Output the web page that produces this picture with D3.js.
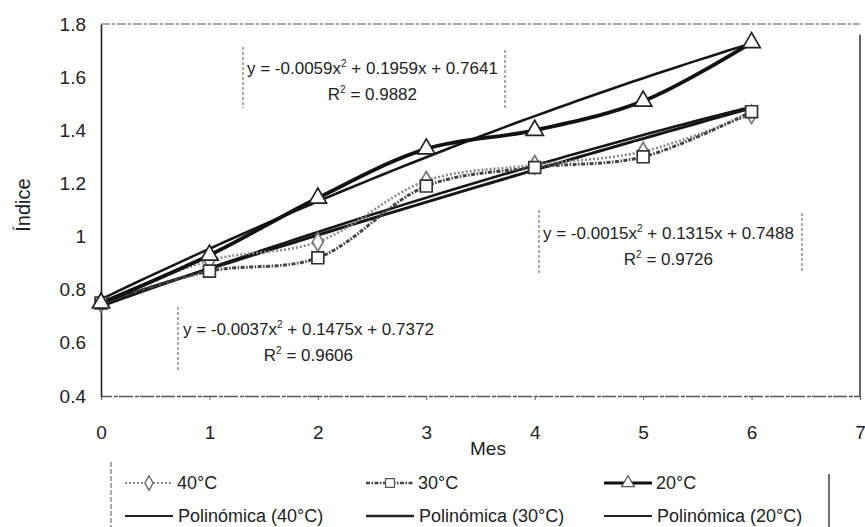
<!DOCTYPE html>
<html>
<head>
<meta charset="utf-8">
<script src="https://cdn.jsdelivr.net/npm/d3@7"></script>
<style>
  body { margin: 0; background: #fff; }
  svg text { font-family: "Liberation Sans", Arial, sans-serif; fill: #222; }
</style>
</head>
<body>
<svg id="chart" width="865" height="527"></svg>
<script>
// data
var months = [0, 1, 2, 3, 4, 5, 6];
var s40 = [0.75, 0.91, 0.98, 1.21, 1.27, 1.32, 1.46];
var s30 = [0.75, 0.87, 0.92, 1.19, 1.26, 1.30, 1.47];
var s20 = [0.75, 0.93, 1.145, 1.33, 1.40, 1.51, 1.73];

// trendline coefficients shown on the chart [a, b, c] for a*x^2 + b*x + c
var fit40 = [-0.0037, 0.1475, 0.7372];
var fit30 = [-0.0015, 0.1315, 0.7488];
var fit20 = [-0.0059, 0.1959, 0.7641];
var r2 = ["0.9606", "0.9726", "0.9882"];

var xTicks = [0, 1, 2, 3, 4, 5, 6, 7];
var yTicks = [0.4, 0.6, 0.8, 1, 1.2, 1.4, 1.6, 1.8];
var seriesNames = ["40°C", "30°C", "20°C"];

var svg = d3.select("svg");

var xScale = d3.scaleLinear().domain([0, 7]).range([101, 860]);
var yScale = d3.scaleLinear().domain([0.4, 1.8]).range([396, 24]);

// plot frame (scanned look: dashed top, solid right)
svg.append("line")
    .attr("x1", xScale(0)).attr("x2", xScale(7))
    .attr("y1", yScale(1.8)).attr("y2", yScale(1.8))
    .attr("stroke", "#555").attr("stroke-width", 1.2)
    .attr("stroke-dasharray", "9,2,3,2");
svg.append("line")
    .attr("x1", xScale(7)).attr("x2", xScale(7))
    .attr("y1", yScale(1.76)).attr("y2", yScale(0.4))
    .attr("stroke", "#333").attr("stroke-width", 1.5);

// x axis
var xAxis = svg.append("g")
    .attr("transform", "translate(0," + yScale(0.4) + ")")
    .call(d3.axisBottom(xScale).tickValues(xTicks).tickFormat(d3.format("d"))
        .tickSize(4).tickPadding(26));
xAxis.select(".domain").attr("stroke", "#555").attr("stroke-width", 1.3)
    .attr("stroke-dasharray", "14,2,4,1");
xAxis.selectAll(".tick line").attr("stroke", "#666");
xAxis.selectAll("text").style("font-size", "19px")
    .style("font-family", "Liberation Sans, Arial, sans-serif").attr("fill", "#222");

// y axis
var yAxis = svg.append("g")
    .attr("transform", "translate(" + xScale(0) + ",0)")
    .call(d3.axisLeft(yScale).tickValues(yTicks).tickFormat(d3.format("~g"))
        .tickSize(0).tickPadding(15));
yAxis.select(".domain").attr("stroke", "#222").attr("stroke-width", 1.6);
yAxis.selectAll("text").style("font-size", "19px")
    .style("font-family", "Liberation Sans, Arial, sans-serif").attr("fill", "#222");

// axis titles
svg.append("text")
    .attr("transform", "translate(30," + 205 + ") rotate(-90)")
    .style("text-anchor", "middle")
    .style("font-size", "20px")
    .text("Índice");
svg.append("text")
    .attr("x", 488).attr("y", 455)
    .style("text-anchor", "middle")
    .style("font-size", "19px")
    .text("Mes");

// trendlines
function polyPoints(c) {
    var pts = [];
    for (var i = 0; i <= 60; i++) {
        var x = i / 10;
        pts.push([x, c[0] * x * x + c[1] * x + c[2]]);
    }
    return pts;
}
var trend = d3.line()
    .x(function(d) { return xScale(d[0]); })
    .y(function(d) { return yScale(d[1]); });

[fit40, fit30, fit20].forEach(function(c, i) {
    svg.append("path")
        .attr("d", trend(polyPoints(c)))
        .attr("fill", "none")
        .attr("stroke", "#161616")
        .attr("stroke-width", i == 1 ? 3 : 2.6);
});

// data lines (smoothed like the spreadsheet)
var smooth = d3.line()
    .x(function(d, i) { return xScale(months[i]); })
    .y(function(d) { return yScale(d); })
    .curve(d3.curveCatmullRom.alpha(0.5));

var styles = [
    { data: s40, stroke: "#8a8a8a", width: 2.6, dash: "2,2" },
    { data: s30, stroke: "#444", width: 3, dash: "4,1.5,1.5,1.5" },
    { data: s20, stroke: "#111", width: 3.8, dash: null }
];

styles.forEach(function(s) {
    svg.append("path")
        .attr("d", smooth(s.data))
        .attr("fill", "none")
        .attr("stroke", s.stroke)
        .attr("stroke-width", s.width)
        .attr("stroke-dasharray", s.dash);
});

// markers
var diamond = d3.symbol().type(d3.symbolDiamond).size(100);
var square = d3.symbol().type(d3.symbolSquare).size(140);
var triangle = d3.symbol().type(d3.symbolTriangle).size(130);

function addMarkers(data, sym, color) {
    svg.append("g").selectAll("path").data(data).enter().append("path")
        .attr("transform", function(d, i) { return "translate(" + xScale(months[i]) + "," + yScale(d) + ")"; })
        .attr("d", sym)
        .attr("fill", "#fff")
        .attr("stroke", color)
        .attr("stroke-width", 1.7);
}
addMarkers(s40, diamond, "#777");
addMarkers(s30, square, "#333");
addMarkers(s20, triangle, "#222");

// equation labels
var eqs = [
    { c: fit20, r: r2[2], x: 247, y: 74, left: 243, right: 505, top: 47, bottom: 108 },
    { c: fit30, r: r2[1], x: 543, y: 239, left: 539, right: 802, top: 210, bottom: 273 },
    { c: fit40, r: r2[0], x: 183, y: 335, left: 178, right: null, top: 307, bottom: 370 }
];

function fmt(v) { return d3.format(".4f")(Math.abs(v)); }

eqs.forEach(function(e) {
    var t = svg.append("text")
        .attr("x", e.x).attr("y", e.y)
        .style("font-size", "17px");
    t.append("tspan").text("y = " + (e.c[0] < 0 ? "-" : "") + fmt(e.c[0]) + "x");
    t.append("tspan").attr("dy", -7).style("font-size", "10px").text("2");
    t.append("tspan").attr("dy", 7).text(" + " + fmt(e.c[1]) + "x + " + fmt(e.c[2]));
    var w = t.node().getComputedTextLength();

    var r = svg.append("text")
        .attr("x", e.x + w / 2).attr("y", e.y + 26)
        .style("text-anchor", "middle")
        .style("font-size", "17px");
    r.append("tspan").text("R");
    r.append("tspan").attr("dy", -7).style("font-size", "10px").text("2");
    r.append("tspan").attr("dy", 7).text(" = " + e.r);

    svg.append("line")
        .attr("x1", e.left).attr("x2", e.left)
        .attr("y1", e.top).attr("y2", e.bottom)
        .attr("stroke", "#555").attr("stroke-dasharray", "3,2");
    if (e.right) {
        svg.append("line")
            .attr("x1", e.right).attr("x2", e.right)
            .attr("y1", e.top + 3).attr("y2", e.bottom)
            .attr("stroke", "#555").attr("stroke-dasharray", "3,2");
    }
});

// legend
var legCols = [125, 366, 604];
var legRow1 = 483, legRow2 = 516;

svg.append("line")
    .attr("x1", 111).attr("x2", 111).attr("y1", 462).attr("y2", 527)
    .attr("stroke", "#555").attr("stroke-dasharray", "5,2");
svg.append("line")
    .attr("x1", 829).attr("x2", 829).attr("y1", 474).attr("y2", 527)
    .attr("stroke", "#333").attr("stroke-width", 1.4);

var symSize = [60, 80, 70];

styles.forEach(function(s, i) {
    var x0 = legCols[i];
    svg.append("line")
        .attr("x1", x0).attr("x2", x0 + 48)
        .attr("y1", legRow1).attr("y2", legRow1)
        .attr("stroke", s.stroke).attr("stroke-width", s.width * 0.8)
        .attr("stroke-dasharray", s.dash);
    svg.append("path")
        .attr("transform", "translate(" + (x0 + 24) + "," + legRow1 + ")")
        .attr("d", d3.symbol().type([d3.symbolDiamond, d3.symbolSquare, d3.symbolTriangle][i]).size(symSize[i]))
        .attr("fill", "#fff").attr("stroke", "#555").attr("stroke-width", 1.2);
    svg.append("text")
        .attr("x", x0 + 52).attr("y", legRow1 + 6)
        .style("font-size", "18px")
        .text(seriesNames[i]);

    svg.append("line")
        .attr("x1", x0).attr("x2", x0 + 48)
        .attr("y1", legRow2).attr("y2", legRow2)
        .attr("stroke", "#222").attr("stroke-width", i == 1 ? 2.6 : 1.8);
    svg.append("text")
        .attr("x", x0 + 53).attr("y", legRow2 + 6)
        .style("font-size", "18px")
        .text("Polinómica (" + seriesNames[i] + ")");
});
</script>
</body>
</html>
